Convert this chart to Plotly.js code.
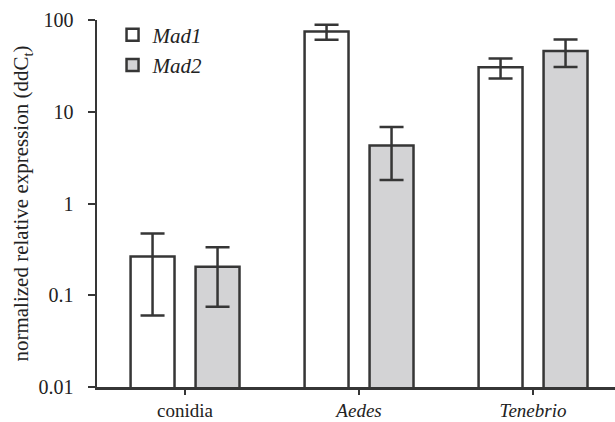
<!DOCTYPE html>
<html>
<head>
<meta charset="utf-8">
<script src="https://cdn.plot.ly/plotly-3.0.1.min.js"></script>
<style>html,body{margin:0;padding:0;background:#fff;}</style>
</head>
<body>
<div id="chart" style="width:615px;height:422px;"></div>
<script>
const categories = ['conidia', 'Aedes', 'Tenebrio'];
const categoryLabels = ['conidia', '<i>Aedes</i>', '<i>Tenebrio</i>'];
const mad1Values = [0.265, 75, 30.5];
const mad1Errors = [0.205, 14, 7.5];
const mad2Values = [0.204, 4.3, 46];
const mad2Errors = [0.129, 2.5, 15.3];
const yTickVals = [0.01, 0.1, 1, 10, 100];
const yTickText = ['0.01', '0.1', '1', '10', '100'];

const ink = '#363636';
const serif = 'Liberation Serif, Times New Roman, serif';

const traces = [
  {
    type: 'bar', name: 'Mad1', x: categories, y: mad1Values,
    marker: {color: '#ffffff', line: {color: ink, width: 2.5}},
    error_y: {type: 'data', array: mad1Errors, visible: true, color: ink, thickness: 2.5, width: 12}
  },
  {
    type: 'bar', name: 'Mad2', x: categories, y: mad2Values,
    marker: {color: '#d3d3d5', line: {color: ink, width: 2.5}},
    error_y: {type: 'data', array: mad2Errors, visible: true, color: ink, thickness: 2.5, width: 12}
  }
];

const layout = {
  width: 615, height: 422,
  margin: {l: 97, r: 0, t: 20, b: 35},
  paper_bgcolor: '#ffffff', plot_bgcolor: '#ffffff',
  barmode: 'group', bargap: 0.253, bargroupgap: 0.324,
  font: {family: serif, size: 19, color: '#222'},
  showlegend: true,
  legend: {
    x: 0.03, y: 1.015, xanchor: 'left', yanchor: 'top',
    bgcolor: 'rgba(0,0,0,0)',
    font: {family: serif, size: 21, color: '#222', style: 'italic'},
    tracegroupgap: 0
  },
  xaxis: {
    type: 'category', range: [-0.506, 2.471],
    tickvals: categories, ticktext: categoryLabels,
    showline: true, linecolor: ink, linewidth: 2.5,
    ticks: 'outside', ticklen: 5, tickwidth: 2, tickcolor: ink,
    ticklabelstandoff: 0,
    showgrid: false, zeroline: false,
    tickfont: {family: serif, size: 19, color: '#222'}
  },
  yaxis: {
    type: 'log', range: [-2, 2],
    tickvals: yTickVals, ticktext: yTickText,
    showline: true, linecolor: ink, linewidth: 2.5,
    ticks: 'outside', ticklen: 7, tickwidth: 2, tickcolor: ink,
    ticklabelstandoff: 10,
    showgrid: false, zeroline: false,
    tickfont: {family: serif, size: 20, color: '#222'},
    title: {text: 'normalized relative expression (ddC<sub>t</sub>)', font: {family: serif, size: 21, color: '#222'}, standoff: 4}
  }
};

Plotly.newPlot('chart', traces, layout, {displayModeBar: false, staticPlot: true});
</script>
</body>
</html>
